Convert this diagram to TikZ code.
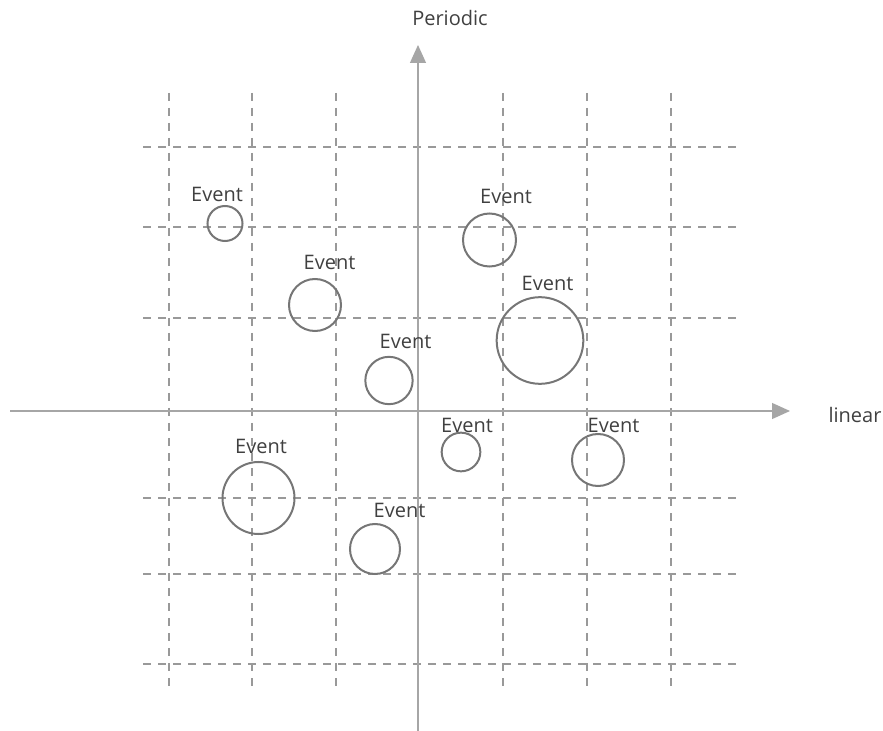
\documentclass[tikz,border=0pt]{standalone}
\usepackage{fontspec}
\setmainfont{Open Sans}
\usetikzlibrary{arrows.meta}
\definecolor{gridc}{HTML}{999999}
\definecolor{axisc}{HTML}{A6A6A6}
\definecolor{circc}{HTML}{767676}
\definecolor{txtc}{HTML}{404040}
\tikzset{
  gridline/.style={draw=gridc, line width=1.5pt, dash pattern=on 6pt off 5.25pt},
  axisline/.style={draw=axisc, line width=1pt, -{Triangle[length=13.5pt,width=12pt]}},
  eventcirc/.style={draw=circc, line width=1.5pt, circle, inner sep=0pt},
  lbl/.style={text=txtc, font=\fontsize{15pt}{18pt}\selectfont, anchor=base, inner sep=0pt},
}
\begin{document}
\begin{tikzpicture}[x=0.75pt,y=-0.75pt]
\useasboundingbox (0,0) rectangle (883,731);
% grid
\foreach \gx in {169,252,336,503,587,671}
  \draw[gridline] (\gx,93) -- (\gx,687);
\foreach \gy in {147,227,318,498,574,664}
  \draw[gridline] (143,\gy) -- (739,\gy);
% axes
\coordinate (xs) at (10,411);
\coordinate (xe) at (790,411);
\coordinate (ys) at (418,731);
\coordinate (ye) at (418,45);
\draw[axisline] (xs) -- (xe);
\draw[axisline] (ys) -- (ye);
\node[lbl] (ylab) at (450,26) {Periodic};
\node[lbl] (xlab) at (855,422) {linear};
% events
\node[eventcirc, minimum size=26.25pt] (c1) at (225,223.5) {};
\node[lbl] (l1) at (217,202) {Event};
\node[eventcirc, minimum size=39pt] (c2) at (315,305) {};
\node[lbl] (l2) at (329.5,270) {Event};
\node[eventcirc, minimum size=39.75pt] (c3) at (489.5,240) {};
\node[lbl] (l3) at (506,204) {Event};
\node[eventcirc, minimum size=65pt] (c4) at (540,340.5) {};
\node[lbl] (l4) at (547.5,291) {Event};
\node[eventcirc, minimum size=35.5pt] (c5) at (389,380.5) {};
\node[lbl] (l5) at (405.5,349) {Event};
\node[eventcirc, minimum size=29pt] (c6) at (461,452) {};
\node[lbl] (l6) at (467,432) {Event};
\node[eventcirc, minimum size=39pt] (c7) at (598,460) {};
\node[lbl] (l7) at (613.5,432) {Event};
\node[eventcirc, minimum size=54pt] (c8) at (258.5,498) {};
\node[lbl] (l8) at (261,453) {Event};
\node[eventcirc, minimum size=37.5pt] (c9) at (375,549) {};
\node[lbl] (l9) at (399.5,517) {Event};
\end{tikzpicture}
\end{document}
